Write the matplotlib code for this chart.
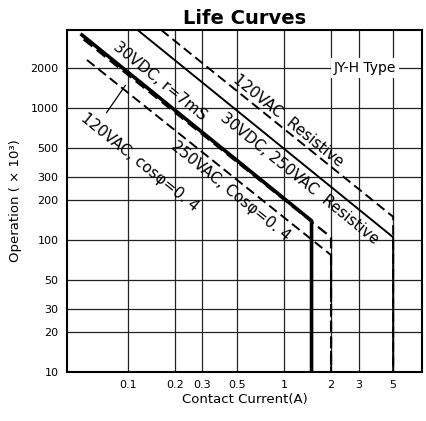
import matplotlib.pyplot as plt
import matplotlib.ticker as mticker

# curve data: (current A, operations x10^3)
ac120_res_x = [0.163, 5, 5]
ac120_res_y = [3900, 150, 10]
dc30_res_x = [0.115, 5, 5]
dc30_res_y = [3900, 105, 10]
dc30_l_x = [0.0507, 1.5, 1.5]
dc30_l_y = [3570, 140, 10]
ac250_cos_x = [0.052, 2, 2]
ac250_cos_y = [3300, 105, 10]
ac120_cos_x = [0.0546, 2, 2]
ac120_cos_y = [2310, 77, 10]

xticks = [0.1, 0.2, 0.3, 0.5, 1, 2, 3, 5]
xticklabels = ['0.1', '0.2', '0.3', '0.5', '1', '2', '3', '5']
yticks = [10, 20, 30, 50, 100, 200, 300, 500, 1000, 2000]

fig = plt.figure(figsize=(4.26, 4.21), dpi=100)
ax = fig.add_axes([0.157, 0.116, 0.834, 0.813])
ax.set_xscale('log')
ax.set_yscale('log')
ax.set_xlim(0.0406, 7.67)
ax.set_ylim(10, 3900)

dash = (0, (5, 2.5))
ax.plot(ac120_res_x, ac120_res_y, color='black', lw=1.4, linestyle=dash)
ax.plot(dc30_res_x, dc30_res_y, color='black', lw=1.4)
ax.plot(dc30_l_x, dc30_l_y, color='black', lw=2.6)
ax.plot(ac250_cos_x, ac250_cos_y, color='black', lw=1.6, linestyle=dash)
ax.plot(ac120_cos_x, ac120_cos_y, color='black', lw=1.4, linestyle=dash)

ax.set_xticks(xticks)
ax.set_xticklabels(xticklabels)
ax.set_yticks(yticks)
ax.set_yticklabels([str(v) for v in yticks])
ax.xaxis.set_minor_locator(mticker.NullLocator())
ax.yaxis.set_minor_locator(mticker.NullLocator())
ax.tick_params(length=0, labelsize=8, pad=6)
ax.grid(True, color='#222222', lw=0.9)
for s in ax.spines.values():
    s.set_linewidth(1.5)

# labels along the curves
rot = -39
lab = dict(fontsize=11, rotation=rot, ha='center', va='center',
           rotation_mode='anchor')
ax.text(0.160, 1600, '30VDC, r=7mS', **lab)
ax.text(1.06, 800, '120VAC  Resistive', **lab)
ax.text(1.25, 292, '30VDC, 250VAC  Resistive', **lab)
ax.text(0.118, 390, '120VAC, cos\u03c6=0. 4', **lab)
ax.text(0.451, 235, '250VAC, Cos\u03c6=0. 4', **lab)
ax.annotate('', xy=(0.0986, 1546), xytext=(0.0712, 885),
            arrowprops=dict(arrowstyle='-', color='black', lw=0.9))
ax.text(3.3, 2000, 'JY-H Type', fontsize=10, ha='center', va='center',
        bbox=dict(facecolor='white', edgecolor='none', pad=2))

ax.set_title('Life Curves', fontsize=14, fontweight='bold', pad=4)
ax.set_xlabel('Contact Current(A)', fontsize=9.5, labelpad=2)
ax.set_ylabel('Operation ( \u00d7 10\u00b3)', fontsize=9.5, labelpad=6)

plt.savefig('out.png', dpi=100)
